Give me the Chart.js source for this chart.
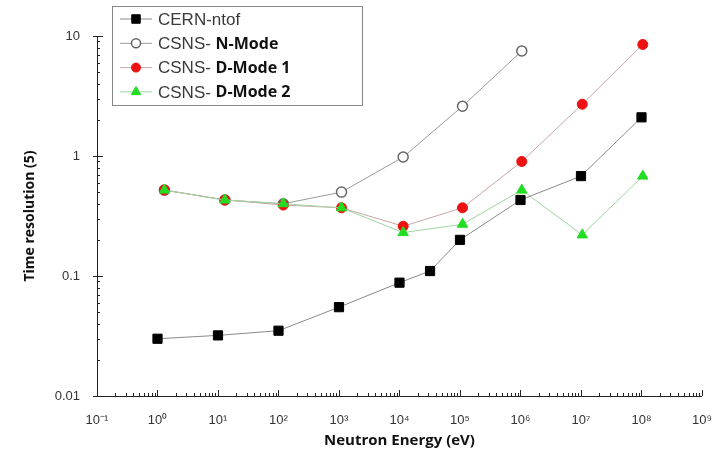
<!DOCTYPE html>
<html>
<head>
<meta charset="utf-8">
<script src="https://cdn.jsdelivr.net/npm/chart.js@4.4.0/dist/chart.umd.min.js"></script>
<style>
  body { margin: 0; background: #fff; }
  canvas { display: block; }
</style>
</head>
<body>
<canvas id="chart" width="721" height="454"></canvas>
<script>
// values
const cernEnergy = [1, 10, 100, 1e3, 1e4, 3.2e4, 1e5, 1e6, 1e7, 1e8];
const cernRes = [0.030, 0.032, 0.035, 0.055, 0.088, 0.11, 0.20, 0.43, 0.68, 2.1];

const csnsEnergy = [1.3, 13, 120, 1.1e3, 1.15e4, 1.1e5, 1.05e6, 1.05e7, 1.05e8];
const nModeRes = [0.52, 0.43, 0.40, 0.50, 0.98, 2.6, 7.5];
const dMode1Res = [0.52, 0.43, 0.39, 0.37, 0.26, 0.37, 0.90, 2.7, 8.5];
const dMode2Res = [0.52, 0.43, 0.40, 0.37, 0.23, 0.27, 0.52, 0.22, 0.68];

const legendPlain = ['CERN-ntof', 'CSNS- ', 'CSNS- ', 'CSNS- '];
const legendBold = ['', 'N-Mode', 'D-Mode 1', 'D-Mode 2'];

const xTickLabels = ['10⁻¹', '10⁰', '10¹', '10²', '10³', '10⁴', '10⁵', '10⁶', '10⁷', '10⁸', '10⁹'];
const yTickLabels = ['0.01', '0.1', '1', '10'];

function pairs(xs, ys) {
  return ys.map((v, i) => ({ x: xs[i], y: v }));
}

// axis ticks point inward, so draw them by hand
const inwardTicks = {
  id: 'inwardTicks',
  afterDraw(chart) {
    const ctx = chart.ctx;
    const xs = chart.scales.x, ys = chart.scales.y;
    ctx.save();
    ctx.strokeStyle = '#222';
    ctx.lineWidth = 1;
    ctx.beginPath();
    for (let d = -1; d <= 9; d++) {
      for (let m = 1; m <= 9; m++) {
        const v = m * Math.pow(10, d);
        if (v > 1e9 * 1.0001) break;
        const px = Math.round(xs.getPixelForValue(v)) + 0.5;
        const len = m === 1 ? 6 : 3;
        ctx.moveTo(px, ys.bottom);
        ctx.lineTo(px, ys.bottom - len);
      }
    }
    for (let d = -2; d <= 1; d++) {
      for (let m = 1; m <= 9; m++) {
        const v = m * Math.pow(10, d);
        if (v > 10 * 1.0001) break;
        const py = Math.round(ys.getPixelForValue(v)) + 0.5;
        const len = m === 1 ? 6 : 3;
        ctx.moveTo(xs.left - (m === 1 ? 4 : 0), py);
        ctx.lineTo(xs.left + len, py);
      }
    }
    ctx.stroke();
    ctx.restore();
  }
};

// legend with mixed plain / bold text
const boxLegend = {
  id: 'boxLegend',
  afterDraw(chart) {
    const ctx = chart.ctx;
    const left = 112, top = 6, w = 250, h = 99, rowH = 24.3;
    ctx.save();
    ctx.fillStyle = '#fff';
    ctx.fillRect(left, top, w, h);
    ctx.strokeStyle = '#888';
    ctx.lineWidth = 1;
    ctx.strokeRect(left + 0.5, top + 0.5, w, h);
    chart.data.datasets.forEach((ds, i) => {
      const y = top + 13 + i * rowH;
      ctx.strokeStyle = ds.borderColor;
      ctx.lineWidth = 1;
      ctx.beginPath();
      ctx.moveTo(left + 8, y);
      ctx.lineTo(left + 40, y);
      ctx.stroke();
      ctx.fillStyle = ds.pointBackgroundColor;
      ctx.strokeStyle = ds.pointBorderColor;
      ctx.lineWidth = ds.pointBorderWidth;
      Chart.helpers.drawPoint(ctx, {
        pointStyle: ds.pointStyle, radius: ds.pointRadius - 0.5, rotation: 0, borderWidth: ds.pointBorderWidth
      }, left + 24, y);
      ctx.textBaseline = 'middle';
      ctx.textAlign = 'left';
      ctx.fillStyle = '#3a3a3a';
      ctx.font = '17px "Liberation Sans", Arial, sans-serif';
      const tx = left + 46;
      ctx.fillText(legendPlain[i], tx, y + 1);
      const pw = ctx.measureText(legendPlain[i]).width;
      ctx.fillStyle = '#111';
      ctx.font = 'bold 16px "Open Sans", sans-serif';
      ctx.fillText(legendBold[i], tx + pw, y + 1);
    });
    ctx.restore();
  }
};

const powerTicks = (scale, labels, startExp) => {
  scale.ticks = labels.map((l, i) => ({ value: Math.pow(10, startExp + i) }));
};

new Chart(document.getElementById('chart'), {
  type: 'scatter',
  data: {
    datasets: [
      {
        label: legendPlain[0] + legendBold[0],
        data: pairs(cernEnergy, cernRes),
        showLine: true,
        borderColor: '#8a8a8a',
        borderWidth: 1,
        pointStyle: 'rect',
        pointRadius: 6.5,
        pointBackgroundColor: '#000',
        pointBorderColor: '#000',
        pointBorderWidth: 1,
        order: 0
      },
      {
        label: legendPlain[1] + legendBold[1],
        data: pairs(csnsEnergy, nModeRes),
        showLine: true,
        borderColor: '#9a9a9a',
        borderWidth: 1,
        pointStyle: 'circle',
        pointRadius: 5,
        pointBackgroundColor: '#fff',
        pointBorderColor: '#666',
        pointBorderWidth: 1.5,
        order: 3
      },
      {
        label: legendPlain[2] + legendBold[2],
        data: pairs(csnsEnergy, dMode1Res),
        showLine: true,
        borderColor: '#c8a8a8',
        borderWidth: 1,
        pointStyle: 'circle',
        pointRadius: 5,
        pointBackgroundColor: '#ee1111',
        pointBorderColor: '#ee1111',
        pointBorderWidth: 1,
        order: 2
      },
      {
        label: legendPlain[3] + legendBold[3],
        data: pairs(csnsEnergy, dMode2Res),
        showLine: true,
        borderColor: '#9fd49f',
        borderWidth: 1,
        pointStyle: 'triangle',
        pointRadius: 6,
        pointBackgroundColor: '#22dd22',
        pointBorderColor: '#22dd22',
        pointBorderWidth: 1,
        order: 1
      }
    ]
  },
  options: {
    responsive: false,
    animation: false,
    layout: { padding: { top: 36, right: 13, left: 0, bottom: 0 } },
    plugins: {
      legend: { display: false },
      tooltip: { enabled: false }
    },
    scales: {
      x: {
        type: 'logarithmic',
        min: 0.1,
        max: 1e9,
        afterBuildTicks: (s) => powerTicks(s, xTickLabels, -1),
        afterFit: (s) => { s.height = 58; },
        grid: { display: false },
        border: { display: true, color: '#222', width: 1 },
        ticks: {
          autoSkip: false,
          maxRotation: 0,
          padding: 9,
          color: '#333',
          font: { family: '"Liberation Sans", Arial, sans-serif', size: 13 },
          callback: (v, i) => xTickLabels[i]
        },
        title: {
          display: true,
          text: 'Neutron Energy (eV)',
          color: '#111',
          font: { family: '"Open Sans", sans-serif', size: 15, weight: 'bold' },
          padding: { top: 0, bottom: 4 }
        }
      },
      y: {
        type: 'logarithmic',
        min: 0.01,
        max: 10,
        afterBuildTicks: (s) => powerTicks(s, yTickLabels, -2),
        afterFit: (s) => { s.width = 97; },
        grid: { display: false },
        border: { display: true, color: '#222', width: 1 },
        ticks: {
          autoSkip: false,
          padding: 9,
          color: '#333',
          font: { family: '"Liberation Sans", Arial, sans-serif', size: 13 },
          callback: (v, i) => yTickLabels[i]
        },
        title: {
          display: true,
          text: 'Time resolution (5)',
          color: '#111',
          font: { family: '"Open Sans", sans-serif', size: 14, weight: 'bold' },
          padding: { top: 22, bottom: 0 }
        }
      }
    }
  },
  plugins: [inwardTicks, boxLegend]
});
</script>
</body>
</html>
